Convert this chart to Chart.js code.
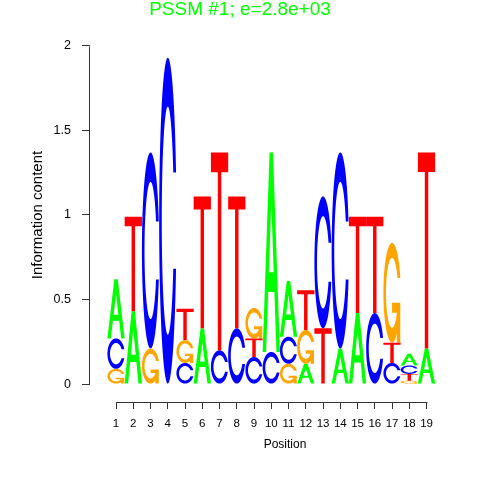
<!DOCTYPE html>
<html>
<head>
<meta charset="utf-8">
<script src="https://cdn.jsdelivr.net/npm/chart.js@4.4.1/dist/chart.umd.min.js"></script>
<style>
  html, body { margin: 0; padding: 0; background: #fff; }
</style>
</head>
<body>
<canvas id="logo" width="480" height="480"></canvas>
<script>
var positions = [1,2,3,4,5,6,7,8,9,10,11,12,13,14,15,16,17,18,19];
var heightA = [0.35,0.43,0,0,0,0.33,0,0,0,1.18,0.33,0.12,0,0.21,0.42,0,0,0.07,0.21];
var heightC = [0.18,0,1.16,1.93,0.125,0,0.2,0.33,0.16,0.19,0.16,0,0.78,1.16,0,0.42,0.125,0.05,0];
var heightG = [0.09,0,0.21,0,0.135,0,0,0,0.18,0,0.12,0.2,0,0,0,0,0.59,0.02,0];
var heightT = [0,0.56,0,0,0.185,0.78,1.17,0.78,0.11,0,0,0.235,0.33,0,0.57,0.57,0.12,0.04,1.16];
// letters of each column from bottom to top
var stackOrder = ['GCA','AT','GC','C','CGT','AT','CT','CT','CTG','CA','GCA','AGT','TC','AC','AT','CT','CTG','GTCA','AT'];
var yTicks = [0, 0.5, 1, 1.5, 2];

var heights = { A: heightA, C: heightC, G: heightG, T: heightT };
var letters = ['A', 'C', 'G', 'T'];
var letterColours = { A: '#00ff00', C: '#0000ff', G: '#ffa500', T: '#ff0000' };

Chart.defaults.font.family = "'Liberation Sans', Arial, sans-serif";
Chart.defaults.color = '#000';

// letter outlines in a unit box (same construction as seqLogo)
function ringShape() {
  var n = 100, a1 = [], a2 = [], i;
  for (i = 0; i < n; i++) {
    a1.push(0.3 + Math.PI / 2 + (Math.PI / 2 - 0.3) * i / (n - 1));
    a2.push(Math.PI + 0.5 * Math.PI * i / (n - 1));
  }
  var xl = [], yl = [];
  a1.concat(a2).forEach(function (a) {
    xl.push(0.5 + 0.5 * Math.sin(a));
    yl.push(0.5 + 0.5 * Math.cos(a));
  });
  var h1 = 0.5 + 0.5 * Math.cos(a1[0]);
  var xi = [], yi = [];
  a1.forEach(function (a) {
    var y = 0.5 + 0.35 * Math.cos(a);
    if (y <= h1) { xi.push(0.5 + 0.35 * Math.sin(a)); yi.push(y); }
  });
  yi[0] = h1;
  a2.forEach(function (a) {
    xi.push(0.5 + 0.35 * Math.sin(a));
    yi.push(0.5 + 0.35 * Math.cos(a));
  });
  var ox = xl.concat(xl.slice().reverse());
  var oy = yl.concat(yl.slice().reverse().map(function (v) { return 1 - v; }));
  var ix = xi.concat(xi.slice().reverse());
  var iy = yi.concat(yi.slice().reverse().map(function (v) { return 1 - v; }));
  var xs = ox.concat(ix.slice().reverse());
  var ys = oy.concat(iy.slice().reverse());
  var pts = xs.map(function (x, k) { return [x, ys[k]]; });
  return { pts: pts, r1: 0.5 + 0.5 * Math.sin(a1[0]) };
}

function zip(xs, ys, s) {
  return xs.map(function (x, k) { return [x * s, ys[k] * s]; });
}

var ring = ringShape();
var shapes = {
  A: { rule: 'evenodd', polys: [
    zip([0,4,6,10,8,6.8,3.2,2,0], [0,10,10,0,0,3,3,0,0], 0.1),
    zip([3.6,5,6.4,3.6], [4,7.5,4,4], 0.1)
  ] },
  C: { rule: 'nonzero', polys: [ring.pts] },
  G: { rule: 'nonzero', polys: [
    ring.pts,
    zip([ring.r1,0.5,0.5,ring.r1-0.2,ring.r1-0.2,ring.r1,ring.r1], [0.4,0.4,0.3,0.3,0,0,0.4], 1)
  ] },
  T: { rule: 'nonzero', polys: [
    zip([0,10,10,6,6,4,4,0], [10,10,9,9,0,0,9,9], 0.1)
  ] }
};

function drawLetter(ctx, L, left, bottom, w, h) {
  var shape = shapes[L];
  ctx.fillStyle = letterColours[L];
  if (shape.rule === 'evenodd') {
    ctx.beginPath();
    shape.polys.forEach(function (poly) { tracePoly(ctx, poly, left, bottom, w, h); });
    ctx.fill('evenodd');
  } else {
    shape.polys.forEach(function (poly) {
      ctx.beginPath();
      tracePoly(ctx, poly, left, bottom, w, h);
      ctx.fill('nonzero');
    });
  }
}

function tracePoly(ctx, poly, left, bottom, w, h) {
  poly.forEach(function (p, k) {
    var px = left + p[0] * w, py = bottom - p[1] * h;
    if (k === 0) ctx.moveTo(px, py); else ctx.lineTo(px, py);
  });
  ctx.closePath();
}

var logoLetters = {
  id: 'logoLetters',
  afterDatasetsDraw: function (chart) {
    var ctx = chart.ctx;
    ctx.save();
    chart.data.datasets.forEach(function (ds, di) {
      var meta = chart.getDatasetMeta(di);
      meta.data.forEach(function (bar) {
        var p = bar.getProps(['x', 'y', 'base', 'width'], true);
        var bottom = Math.max(p.y, p.base);
        var h = Math.abs(p.base - p.y);
        drawLetter(ctx, ds.label, p.x - p.width / 2, bottom, p.width, h);
      });
    });
    ctx.restore();
  }
};

// R style axis lines that only run from the first to the last tick
var rAxes = {
  id: 'rAxes',
  afterDraw: function (chart) {
    var ctx = chart.ctx, xs = chart.scales.x, ys = chart.scales.y;
    var ax = Math.round(chart.chartArea.left) - 0.5;
    var ay = Math.round(chart.chartArea.bottom) + 0.5;
    ctx.save();
    ctx.strokeStyle = '#333';
    ctx.lineWidth = 1;
    ctx.beginPath();
    ctx.moveTo(ax, Math.round(ys.getPixelForValue(yTicks[0])) + 0.5);
    ctx.lineTo(ax, Math.round(ys.getPixelForValue(yTicks[yTicks.length - 1])) + 0.5);
    ctx.moveTo(Math.round(xs.getPixelForValue(positions[0])) + 0.5, ay);
    ctx.lineTo(Math.round(xs.getPixelForValue(positions[positions.length - 1])) + 0.5, ay);
    ctx.stroke();
    ctx.restore();
  }
};

var datasets = letters.map(function (L) {
  var pts = [];
  positions.forEach(function (pos, i) {
    var h = heights[L][i];
    if (!h) return;
    var order = stackOrder[i];
    var lo = 0;
    for (var k = 0; k < order.indexOf(L); k++) lo += heights[order[k]][i];
    pts.push({ x: pos, y: [lo, lo + h] });
  });
  return {
    label: L,
    data: pts,
    backgroundColor: 'rgba(0,0,0,0)',
    borderWidth: 0,
    grouped: false,
    barPercentage: 1,
    categoryPercentage: 1
  };
});

new Chart(document.getElementById('logo').getContext('2d'), {
  type: 'bar',
  data: { datasets: datasets },
  plugins: [logoLetters, rAxes],
  options: {
    responsive: false,
    animation: false,
    layout: { padding: 0 },
    plugins: {
      legend: { display: false },
      tooltip: { enabled: false },
      title: {
        display: true,
        text: 'PSSM #1; e=2.8e+03',
        color: '#00ff00',
        font: { size: 19, weight: 'normal', lineHeight: 1 },
        padding: { top: 0, bottom: 9 }
      }
    },
    scales: {
      x: {
        type: 'linear',
        min: -0.51,
        max: 22.1,
        offset: false,
        grid: { display: true, offset: false, drawOnChartArea: false, drawTicks: true, tickLength: 7, color: '#333' },
        border: { display: false },
        ticks: { autoSkip: false, maxRotation: 0, padding: 8, font: { size: 11.5 } },
        afterBuildTicks: function (s) { s.ticks = positions.map(function (v) { return { value: v }; }); },
        afterFit: function (s) { s.height = 78; },
        title: { display: true, text: 'Position', font: { size: 12 }, padding: { top: 0, bottom: 27.8 } }
      },
      y: {
        min: -0.106,
        max: 2.106,
        grid: { display: true, drawOnChartArea: false, drawTicks: true, tickLength: 8, color: '#333' },
        border: { display: false },
        ticks: { padding: 11, font: { size: 12.5 }, callback: function (v) { return String(v); } },
        afterBuildTicks: function (s) { s.ticks = yTicks.map(function (v) { return { value: v }; }); },
        afterFit: function (s) { s.width = 90; },
        title: { display: true, text: 'Information content', font: { size: 15 }, padding: { top: 29, bottom: 0 } }
      }
    }
  }
});
</script>
</body>
</html>
